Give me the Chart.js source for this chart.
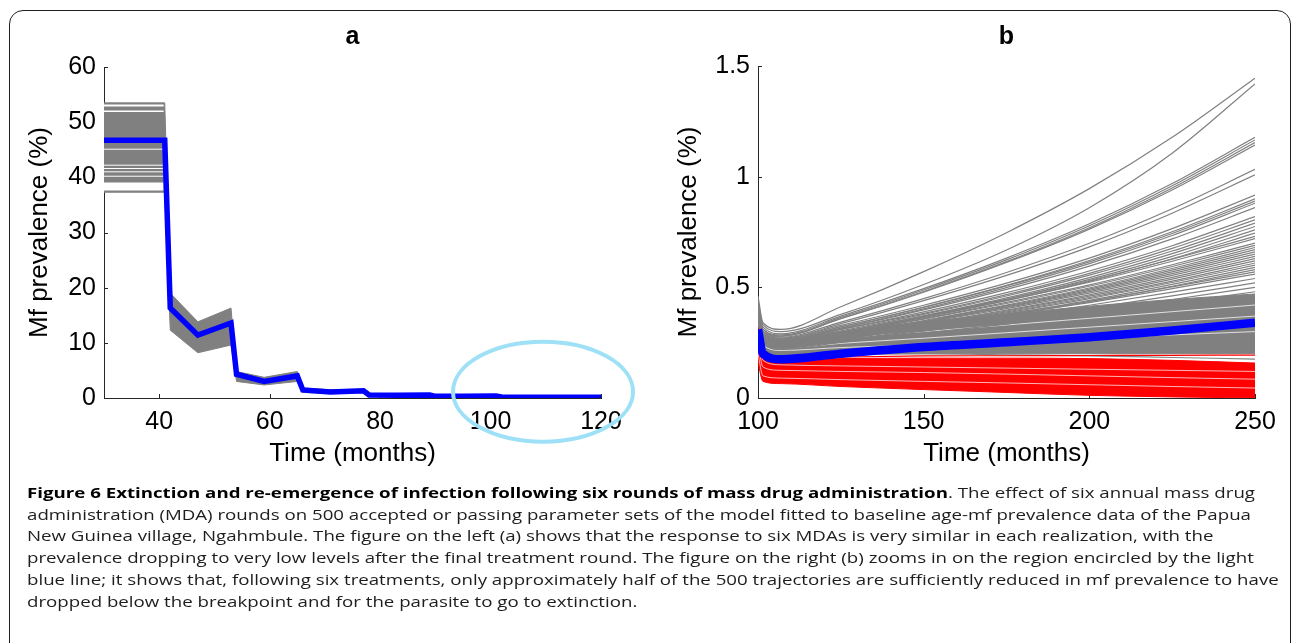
<!DOCTYPE html>
<html>
<head>
<meta charset="utf-8">
<script src="https://cdn.jsdelivr.net/npm/chart.js@4.4.1/dist/chart.umd.min.js"></script>
<style>
  html, body { margin: 0; padding: 0; background: #fff; width: 1295px; height: 643px; overflow: hidden; }
  body { position: relative; }
  .frame { position: absolute; left: 9px; top: 10px; width: 1282px; height: 720px; border: 1.5px solid #1e1e1e; border-radius: 14px; box-sizing: border-box; pointer-events: none; }
  #boxA { position: absolute; left: 0; top: 0; }
  #boxB { position: absolute; left: 645px; top: 0; }
  .caption { position: absolute; left: 27px; top: 482px; font-family: "Open Sans", sans-serif; font-size: 14.5px; line-height: 21.7px; color: #1f1c1d; white-space: nowrap; transform-origin: 0 0; }
  .caption b { color: #000; font-weight: 700; }
  .caption span { display: inline-block; }
</style>
</head>
<body>
<div id="boxA"><canvas id="chartA" width="640" height="480"></canvas></div>
<div id="boxB"><canvas id="chartB" width="650" height="480"></canvas></div>
<div class="frame"></div>
<div class="caption" id="caption">
  <div><span><b>Figure 6 Extinction and re-emergence of infection following six rounds of mass drug administration</b>. The effect of six annual mass drug</span></div>
  <div><span>administration (MDA) rounds on 500 accepted or passing parameter sets of the model fitted to baseline age-mf prevalence data of the Papua</span></div>
  <div><span>New Guinea village, Ngahmbule. The figure on the left (a) shows that the response to six MDAs is very similar in each realization, with the</span></div>
  <div><span>prevalence dropping to very low levels after the final treatment round. The figure on the right (b) zooms in on the region encircled by the light</span></div>
  <div><span>blue line; it shows that, following six treatments, only approximately half of the 500 trajectories are sufficiently reduced in mf prevalence to have</span></div>
  <div><span>dropped below the breakpoint and for the parasite to go to extinction.</span></div>
</div>
<script>
// ===== DATA: panel a (months, Mf prevalence %) =====
const aTimes = [30, 41, 42, 47, 53, 54, 59, 65, 66, 71, 77, 78, 83, 89, 90, 95, 101, 102, 110, 120];
const aBlue  = [46.7, 46.7, 16.3, 11.4, 13.6, 4.3, 3.0, 4.0, 1.45, 1.1, 1.3, 0.55, 0.5, 0.55, 0.3, 0.3, 0.35, 0.2, 0.15, 0.15];
const aUpper = [53.5, 53.5, 19.0, 13.8, 16.3, 4.8, 3.75, 4.8, 1.8, 1.5, 1.6, 0.75, 0.7, 0.75, 0.4, 0.4, 0.45, 0.25, 0.2, 0.2];
const aLower = [37.3, 37.3, 12.3, 8.2, 9.6, 3.0, 2.36, 3.0, 1.0, 0.8, 0.95, 0.35, 0.3, 0.35, 0.2, 0.2, 0.25, 0.15, 0.1, 0.1];
const aPlateau = [30, 40.8];                       // baseline stretch where gaps between runs show
const aGapLevels = [53.0, 52.0, 45.1, 42.2, 41.6, 41.0, 40.2, 38.35];
const aXTicks = [40, 60, 80, 100, 120];
const aYTicks = [0, 10, 20, 30, 40, 50, 60];
const aCircle = { x: 109.5, y: 1.14, rx: 16.3, ry: 9.06 }; // light blue ring, data units

// ===== DATA: panel b =====
const bTimes = [100, 101.5, 107, 125, 150, 175, 200, 225, 250];
const bBlue  = [0.31, 0.2, 0.175, 0.2, 0.23, 0.252, 0.275, 0.305, 0.34];
const bGray = [
  [0.46, 0.34, 0.31, 0.412, 0.571, 0.747, 0.946, 1.178, 1.445],
  [0.44, 0.33, 0.30, 0.378, 0.513, 0.669, 0.86, 1.106, 1.419],
  [0.42, 0.32, 0.29, 0.37, 0.494, 0.632, 0.787, 0.969, 1.178],
  [0.41, 0.31, 0.285, 0.364, 0.488, 0.624, 0.778, 0.959, 1.166],
  [0.40, 0.31, 0.28, 0.359, 0.481, 0.616, 0.769, 0.949, 1.154],
  [0.40, 0.30, 0.28, 0.358, 0.478, 0.612, 0.763, 0.94, 1.143],
  [0.39, 0.30, 0.275, 0.343, 0.449, 0.567, 0.699, 0.855, 1.033],
  [0.38, 0.30, 0.27, 0.336, 0.44, 0.554, 0.683, 0.835, 1.008],
  [0.38, 0.29, 0.27, 0.328, 0.419, 0.519, 0.632, 0.765, 0.917],
  [0.37, 0.29, 0.265, 0.322, 0.411, 0.509, 0.621, 0.751, 0.90],
  [0.37, 0.29, 0.265, 0.321, 0.409, 0.506, 0.615, 0.743, 0.89],
  [0.37, 0.29, 0.26, 0.316, 0.403, 0.499, 0.607, 0.734, 0.88],
  [0.36, 0.28, 0.26, 0.314, 0.398, 0.491, 0.596, 0.719, 0.86],
  [0.36, 0.28, 0.26, 0.31, 0.389, 0.476, 0.574, 0.688, 0.82],
  [0.36, 0.28, 0.255, 0.31, 0.382, 0.467, 0.563, 0.676, 0.805],
  [0.36, 0.28, 0.255, 0.303, 0.378, 0.461, 0.555, 0.664, 0.79],
  [0.35, 0.28, 0.25, 0.297, 0.371, 0.452, 0.544, 0.652, 0.775],
  [0.35, 0.27, 0.25, 0.296, 0.367, 0.446, 0.536, 0.64, 0.76],
  [0.35, 0.27, 0.25, 0.295, 0.364, 0.441, 0.527, 0.629, 0.745],
  [0.35, 0.27, 0.25, 0.298, 0.37, 0.447, 0.531, 0.627, 0.73],
  [0.34, 0.27, 0.245, 0.293, 0.364, 0.44, 0.523, 0.618, 0.72],
  [0.34, 0.27, 0.245, 0.29, 0.359, 0.432, 0.511, 0.602, 0.70],
  [0.34, 0.27, 0.245, 0.29, 0.356, 0.427, 0.505, 0.594, 0.69],
  [0.34, 0.27, 0.24, 0.284, 0.35, 0.42, 0.497, 0.585, 0.68],
  [0.34, 0.27, 0.24, 0.283, 0.348, 0.416, 0.492, 0.578, 0.67],
  [0.34, 0.26, 0.24, 0.282, 0.345, 0.412, 0.486, 0.57, 0.66],
  [0.33, 0.26, 0.24, 0.281, 0.343, 0.409, 0.481, 0.562, 0.65],
  [0.33, 0.26, 0.24, 0.28, 0.34, 0.404, 0.474, 0.554, 0.64],
  [0.33, 0.26, 0.235, 0.275, 0.334, 0.397, 0.466, 0.545, 0.63],
  [0.33, 0.26, 0.235, 0.274, 0.331, 0.393, 0.46, 0.537, 0.62],
  [0.33, 0.26, 0.235, 0.272, 0.329, 0.389, 0.454, 0.528, 0.61],
  [0.33, 0.26, 0.235, 0.272, 0.326, 0.385, 0.449, 0.522, 0.60],
  [0.33, 0.26, 0.23, 0.266, 0.32, 0.378, 0.441, 0.513, 0.59],
  [0.33, 0.26, 0.23, 0.265, 0.318, 0.374, 0.435, 0.505, 0.58],
  [0.33, 0.26, 0.23, 0.271, 0.325, 0.38, 0.437, 0.502, 0.57],
  [0.33, 0.26, 0.23, 0.27, 0.322, 0.375, 0.431, 0.494, 0.56],
  [0.32, 0.25, 0.23, 0.267, 0.317, 0.366, 0.419, 0.478, 0.54],
  [0.32, 0.25, 0.225, 0.26, 0.308, 0.355, 0.405, 0.461, 0.52],
  [0.32, 0.25, 0.225, 0.258, 0.302, 0.346, 0.393, 0.445, 0.50],
  [0.31, 0.25, 0.22, 0.251, 0.293, 0.334, 0.379, 0.428, 0.48],
  [0.28, 0.22, 0.20, 0.20, 0.20, 0.195, 0.19, 0.183, 0.176]
];
const bGrayUpper = [0.34, 0.28, 0.26, 0.30, 0.345, 0.38, 0.415, 0.445, 0.47];
const bGrayLower = [0.27, 0.22, 0.19, 0.195, 0.20, 0.20, 0.20, 0.20, 0.20];
const bGrayGaps = [
  [0.30, 0.24, 0.215, 0.228, 0.24, 0.255, 0.27, 0.285, 0.30],
  [0.31, 0.25, 0.225, 0.247, 0.27, 0.295, 0.32, 0.345, 0.37],
  [0.32, 0.26, 0.24, 0.27, 0.30, 0.33, 0.36, 0.39, 0.42]
];
const bRedUpper = [0.32, 0.20, 0.175, 0.178, 0.18, 0.18, 0.178, 0.17, 0.158];
const bRedLower = [0.16, 0.075, 0.065, 0.052, 0.038, 0.025, 0.012, 0.005, 0.0];
const bRedLine  = [0.30, 0.20, 0.18, 0.185, 0.19, 0.191, 0.192, 0.193, 0.194];
const bRedGaps = [
  [0.20, 0.10, 0.09, 0.083, 0.075, 0.068, 0.06, 0.052, 0.045],
  [0.25, 0.14, 0.125, 0.12, 0.115, 0.108, 0.10, 0.092, 0.085],
  [0.28, 0.17, 0.15, 0.145, 0.14, 0.135, 0.13, 0.125, 0.12]
];
const bXTicks = [100, 150, 200, 250];
const bYTicks = [0, 0.5, 1, 1.5];

// ===== STYLE =====
const FONT = "'Liberation Sans', Arial, sans-serif";
const AXIS = "#262626";
const GRAY = "#808080";
const BLUE = "#0000ff";
const RED = "#ff0000";
const RING = "#9ee1f6";
const TICK = 4;
const aGapWidths = [2, 1.5, 1, 1, 1, 1, 1, 8];

function pts(xs, ys) { return xs.map((x, i) => ({ x: x, y: ys[i] })); }

function line(xs, ys, color, width, extra) {
  return Object.assign({
    data: pts(xs, ys), borderColor: color, borderWidth: width,
    pointRadius: 0, fill: false, tension: 0
  }, extra || {});
}

// datasets are listed bottom first; order makes the last one drawn on top
function stack(list) {
  list.forEach((d, i) => { d.order = list.length - i; });
  return list;
}

const inwardTicks = {
  id: "inwardTicks",
  beforeDatasetsDraw(chart) {
    const { ctx, chartArea, scales } = chart;
    ctx.save();
    ctx.strokeStyle = AXIS;
    ctx.lineWidth = 1;
    ctx.beginPath();
    scales.x.ticks.forEach(t => {
      const px = Math.round(scales.x.getPixelForValue(t.value)) + 0.5;
      ctx.moveTo(px, chartArea.bottom);
      ctx.lineTo(px, chartArea.bottom - TICK);
    });
    scales.y.ticks.forEach(t => {
      const py = Math.round(scales.y.getPixelForValue(t.value)) + 0.5;
      ctx.moveTo(chartArea.left, py);
      ctx.lineTo(chartArea.left + TICK, py);
    });
    ctx.stroke();
    ctx.restore();
  }
};

const ring = {
  id: "ring",
  afterDraw(chart) {
    const { ctx, scales } = chart;
    const cx = scales.x.getPixelForValue(aCircle.x);
    const cy = scales.y.getPixelForValue(aCircle.y);
    const rx = Math.abs(scales.x.getPixelForValue(aCircle.x + aCircle.rx) - cx);
    const ry = Math.abs(scales.y.getPixelForValue(aCircle.y + aCircle.ry) - cy);
    ctx.save();
    ctx.strokeStyle = RING;
    ctx.lineWidth = 4;
    ctx.beginPath();
    ctx.ellipse(cx, cy, rx, ry, 0, 0, Math.PI * 2);
    ctx.stroke();
    ctx.restore();
  }
};

function axes(xMin, xMax, xTicks, yMin, yMax, yTicks, yWidth, xTitlePad, yTitlePad) {
  const tickFont = { family: FONT, size: 25 };
  const titleFont = { family: FONT, size: 26, lineHeight: 1.2 };
  return {
    x: {
      type: "linear", min: xMin, max: xMax,
      afterBuildTicks: s => { s.ticks = xTicks.map(v => ({ value: v })); },
      afterFit: s => { s.height = 80; },
      grid: { display: false, drawTicks: false, tickLength: 0 },
      border: { display: true, color: AXIS, width: 1 },
      ticks: { font: tickFont, color: "#000", padding: 9, maxRotation: 0, autoSkip: false, callback: v => String(v) },
      title: { display: true, text: "Time (months)", font: titleFont, color: "#000", padding: { top: 0, bottom: xTitlePad } }
    },
    y: {
      type: "linear", min: yMin, max: yMax,
      afterBuildTicks: s => { s.ticks = yTicks.map(v => ({ value: v })); },
      afterFit: s => { s.width = yWidth; },
      grid: { display: false, drawTicks: false, tickLength: 0 },
      border: { display: true, color: AXIS, width: 1 },
      ticks: { font: tickFont, color: "#000", padding: 8, autoSkip: false, callback: v => String(v) },
      title: { display: true, text: "Mf prevalence (%)", font: titleFont, color: "#000", padding: { top: yTitlePad, bottom: 0 } }
    }
  };
}

function baseOptions(title, titleBottom, rightPad, scales) {
  return {
    responsive: false,
    animation: false,
    devicePixelRatio: 1,
    layout: { padding: { left: 0, right: rightPad, top: 0, bottom: 2 } },
    plugins: {
      legend: { display: false },
      tooltip: { enabled: false },
      title: {
        display: true, text: title, fullSize: false, color: "#000",
        font: { family: FONT, size: 25, weight: "bold", lineHeight: 1.2 },
        padding: { top: 22, bottom: titleBottom }
      }
    },
    scales: scales
  };
}

// ===== PANEL a =====
const datasetsA = [
  line(aTimes, aUpper, GRAY, 1, { fill: "+1", backgroundColor: GRAY }),
  line(aTimes, aLower, GRAY, 1)
];
aGapLevels.forEach((v, i) => {
  datasetsA.push(line(aPlateau, [v, v], "#ffffff", aGapWidths[i], { borderCapStyle: "butt" }));
});
datasetsA.push(line(aTimes, aBlue, BLUE, 5.5));

new Chart(document.getElementById("chartA"), {
  type: "line",
  data: { datasets: stack(datasetsA) },
  options: baseOptions("a", 15, 39, axes(30, 120, aXTicks, 0, 60, aYTicks, 104, 8.4, 24)),
  plugins: [inwardTicks, ring]
});

// ===== PANEL b =====
const smooth = { cubicInterpolationMode: "monotone" };
const datasetsB = [
  line(bTimes, bGrayUpper, GRAY, 1, Object.assign({ fill: "+1", backgroundColor: GRAY }, smooth)),
  line(bTimes, bGrayLower, GRAY, 1, smooth)
];
bGrayGaps.forEach(g => datasetsB.push(line(bTimes, g, "rgba(255,255,255,0.75)", 1, smooth)));
bGray.forEach(g => datasetsB.push(line(bTimes, g, GRAY, 1.2, smooth)));
datasetsB.push(line(bTimes, bRedUpper, RED, 1, Object.assign({ fill: "+1", backgroundColor: RED }, smooth)));
datasetsB.push(line(bTimes, bRedLower, RED, 1, smooth));
bRedGaps.forEach(g => datasetsB.push(line(bTimes, g, "rgba(255,255,255,0.7)", 1, smooth)));
datasetsB.push(line(bTimes, bRedLine, RED, 1.2, smooth));
datasetsB.push(line(bTimes, bBlue, BLUE, 8.5, smooth));

new Chart(document.getElementById("chartB"), {
  type: "line",
  data: { datasets: stack(datasetsB) },
  options: baseOptions("b", 14, 40, axes(100, 250, bXTicks, 0, 1.5, bYTicks, 113, 8.4, 28.4)),
  plugins: [inwardTicks]
});

// ===== CAPTION: stretch to the width of the printed lines =====
function fitCaption() {
  const cap = document.getElementById("caption");
  cap.style.transform = "none";
  const w = cap.querySelectorAll("span")[1].getBoundingClientRect().width;
  cap.style.transform = "scaleX(" + (1224 / w) + ")";
}
fitCaption();
if (document.fonts && document.fonts.ready) document.fonts.ready.then(fitCaption);
</script>
</body>
</html>
